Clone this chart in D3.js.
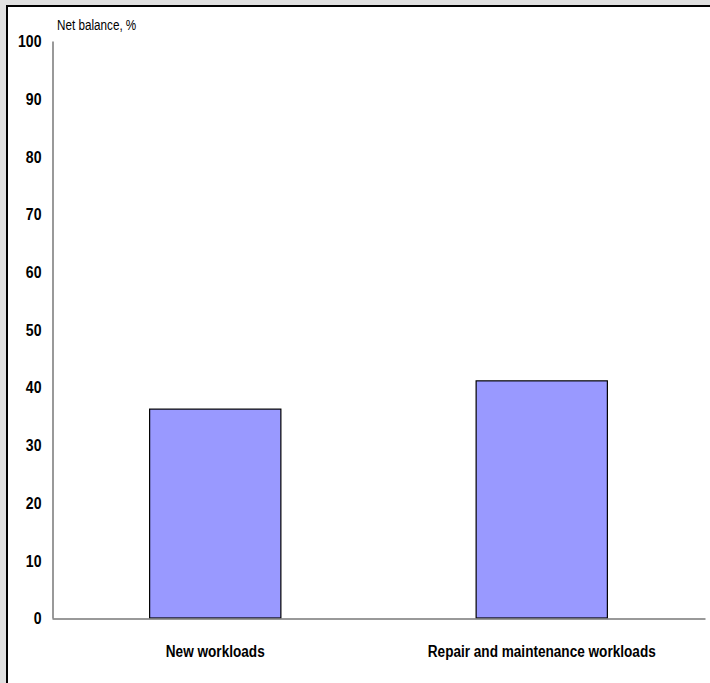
<!DOCTYPE html>
<html><head><meta charset="utf-8">
<script src="https://cdn.jsdelivr.net/npm/d3@7"></script>
<style>html,body{margin:0;padding:0;background:#e0e0e0;overflow:hidden}</style>
</head><body>
<script>
const categories = ["New workloads", "Repair and maintenance workloads"];
const values = [36.2, 41.1];
const yTicks = [0, 10, 20, 30, 40, 50, 60, 70, 80, 90, 100];
const yTitle = "Net balance, %";

const W = 710, H = 683;
const FONT = "Liberation Sans, Arial, sans-serif";
const svg = d3.select("body").append("svg").attr("width", W).attr("height", H)
  .style("display", "block");
svg.append("rect").attr("width", W).attr("height", H).attr("fill", "#e0e0e0");
svg.append("rect").attr("x", 7).attr("y", 6).attr("width", W + 10).attr("height", H + 10)
  .attr("fill", "#fff").attr("stroke", "#000").attr("stroke-width", 2);

const x = d3.scaleBand().domain(categories).range([52, 705]).paddingInner(0.598).paddingOuter(0.299);
const y = d3.scaleLinear().domain([0, 100]).range([618, 41]);

svg.selectAll("rect.bar").data(values).join("rect").attr("class", "bar")
  .attr("x", (d, i) => x(categories[i]))
  .attr("width", x.bandwidth())
  .attr("y", d => y(d))
  .attr("height", d => y(0) - y(d))
  .attr("fill", "#9999ff").attr("stroke", "#000").attr("stroke-width", 1.2);

const yAxis = svg.append("g").attr("transform", "translate(52.5,0)")
  .call(d3.axisLeft(y).tickValues(yTicks).tickSize(0).tickPadding(0).tickFormat(d3.format("d")));
yAxis.select(".domain").attr("stroke", "#777").attr("stroke-width", 1.5);
yAxis.selectAll("text").attr("font-family", FONT)
  .attr("font-size", 16).attr("font-weight", "bold").attr("fill", "#000")
  .attr("x", 0).attr("dy", "0.36em")
  .attr("transform", "translate(-11,0) scale(0.88,1)");

const xAxis = svg.append("g").attr("transform", "translate(0,618.5)")
  .call(d3.axisBottom(x).tickSize(0).tickPadding(0));
xAxis.select(".domain").attr("stroke", "#777").attr("stroke-width", 1.5);
xAxis.selectAll("text").attr("font-family", FONT)
  .attr("font-size", 17).attr("font-weight", "bold").attr("fill", "#000")
  .attr("y", 0).attr("dy", 0)
  .attr("transform", "translate(0,38.5) scale(0.8,1)");

svg.append("text").attr("transform", "translate(57,29.5) scale(0.78,1)").text(yTitle)
  .attr("font-family", FONT).attr("font-size", 15).attr("fill", "#000");
</script>
</body></html>
